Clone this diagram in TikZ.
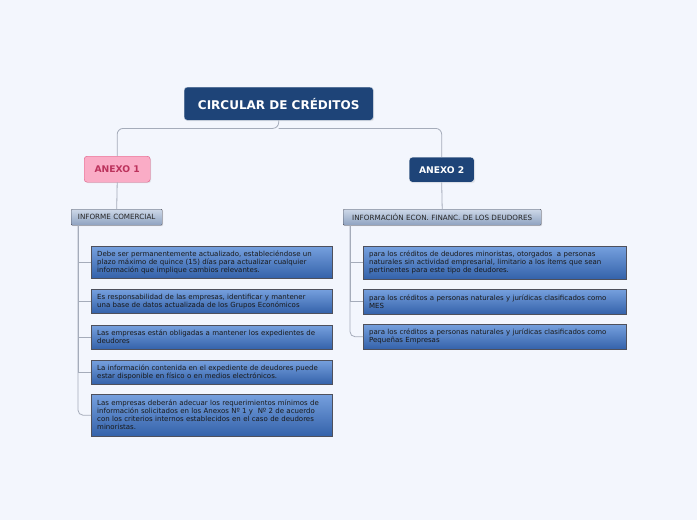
\documentclass[tikz,border=0pt]{standalone}
\usepackage{fontspec}
\setmainfont{DejaVu Sans}
\usetikzlibrary{shadows}
\definecolor{bgc}{RGB}{243,246,253}
\definecolor{navy}{RGB}{30,68,120}
\definecolor{pinkf}{RGB}{250,172,198}
\definecolor{pinkb}{RGB}{222,92,132}
\definecolor{pinkt}{RGB}{188,50,92}
\definecolor{linec}{RGB}{165,172,186}
\definecolor{cbtop}{RGB}{118,160,222}
\definecolor{cbbot}{RGB}{52,98,170}
\definecolor{cbdraw}{RGB}{78,80,92}
\definecolor{gtop}{RGB}{205,216,232}
\definecolor{gbot}{RGB}{142,162,192}
\begin{document}
\begin{tikzpicture}[x=1pt,y=-1pt,
  mainbox/.style={draw=white!70!navy,fill=navy,rounded corners=3pt,text=white,font=\bfseries\fontsize{12}{14}\selectfont,anchor=north west,inner sep=0pt,drop shadow={opacity=0.15,shadow xshift=1pt,shadow yshift=-1pt}},
  anexoa/.style={draw=pinkb,fill=pinkf,rounded corners=3pt,text=pinkt,font=\bfseries\fontsize{9.2}{10}\selectfont,anchor=north west,inner sep=0pt,drop shadow={opacity=0.15,shadow xshift=1pt,shadow yshift=-1pt}},
  anexob/.style={draw=white,fill=navy,rounded corners=3pt,text=white,font=\bfseries\fontsize{9.2}{10}\selectfont,anchor=north west,inner sep=0pt,drop shadow={opacity=0.15,shadow xshift=1pt,shadow yshift=-1pt}},
  subbox/.style={draw=cbdraw,top color=gtop,bottom color=gbot,rounded corners=1pt,text=black!85,font=\fontsize{7.2}{8}\selectfont,anchor=north west,inner sep=0pt,drop shadow={opacity=0.2,shadow xshift=1pt,shadow yshift=-1pt}},
  leaf/.style={draw=cbdraw,top color=cbtop,bottom color=cbbot,text=black!90,font=\fontsize{7}{8}\selectfont,anchor=north west,inner xsep=6pt,inner ysep=0pt,align=left,drop shadow={opacity=0.2,shadow xshift=1pt,shadow yshift=-1pt}},
  conn/.style={draw=linec,line width=0.8pt}
]
\fill[bgc] (0,0) rectangle (697,520);
\useasboundingbox (0,0) rectangle (697,520);

\node[mainbox,minimum width=189pt,minimum height=33pt] (root) at (184,87) {CIRCULAR DE CRÉDITOS};
\node[anexoa,minimum width=66pt,minimum height=26pt] (a1) at (84,156) {ANEXO 1};
\node[anexob,minimum width=65pt,minimum height=25pt] (a2) at (409,157) {ANEXO 2};

\coordinate (rb) at ([yshift=-8pt]root.south);
\draw[conn,rounded corners=6pt] (root.south) -- (rb) -| (a1.north);
\draw[conn,rounded corners=6pt] (rb) -| (a2.north);

\node[subbox,minimum width=91pt,minimum height=16pt] (inf) at (71,209) {INFORME COMERCIAL};
\node[subbox,minimum width=198pt,minimum height=16pt] (ief) at (343,209) {INFORMACIÓN ECON. FINANC. DE LOS DEUDORES};
\draw[conn] (a1.south) -- (inf.north);
\draw[conn] (a2.south) -- (ief.north);

% left leaves
\node[leaf,text width=229pt,minimum height=32pt] (l1) at (91,246) {Debe ser permanentemente actualizado, estableciéndose un\\plazo máximo de quince (15) días para actualizar cualquier\\información que implique cambios relevantes.};
\node[leaf,text width=229pt,minimum height=24pt] (l2) at (91,289) {Es responsabilidad de las empresas, identificar y mantener\\una base de datos actualizada de los Grupos Económicos};
\node[leaf,text width=229pt,minimum height=24pt] (l3) at (91,325) {Las empresas están obligadas a mantener los expedientes de\\deudores};
\node[leaf,text width=229pt,minimum height=24pt] (l4) at (91,360) {La información contenida en el expediente de deudores puede\\estar disponible en físico o en medios electrónicos.};
\node[leaf,text width=229pt,minimum height=42pt] (l5) at (91,394) {Las empresas deberán adecuar los requerimientos mínimos de\\información solicitados en los Anexos Nº 1 y~ Nº 2 de acuerdo\\con los criterios internos establecidos en el caso de deudores\\minoristas.};

\coordinate (lt) at ([xshift=7pt]inf.south west);
\draw[conn] (lt) |- (l1.west);
\draw[conn] (lt) |- (l2.west);
\draw[conn] (lt) |- (l3.west);
\draw[conn] (lt) |- (l4.west);
\draw[conn,rounded corners=5pt] (lt) |- (l5.west);

% right leaves
\node[leaf,text width=251pt,minimum height=33pt] (r1) at (363,246) {para los créditos de deudores minoristas, otorgados~ a personas\\naturales sin actividad empresarial, limitario a los ítems que sean\\pertinentes para este tipo de deudores.};
\node[leaf,text width=251pt,minimum height=25pt] (r2) at (363,289) {para los créditos a personas naturales y jurídicas clasificados como\\MES};
\node[leaf,text width=251pt,minimum height=25pt] (r3) at (363,324) {para los créditos a personas naturales y jurídicas clasificados como\\Pequeñas Empresas};

\coordinate (rt) at ([xshift=7pt]ief.south west);
\draw[conn] (rt) |- (r1.west);
\draw[conn] (rt) |- (r2.west);
\draw[conn,rounded corners=5pt] (rt) |- (r3.west);
\end{tikzpicture}
\end{document}
